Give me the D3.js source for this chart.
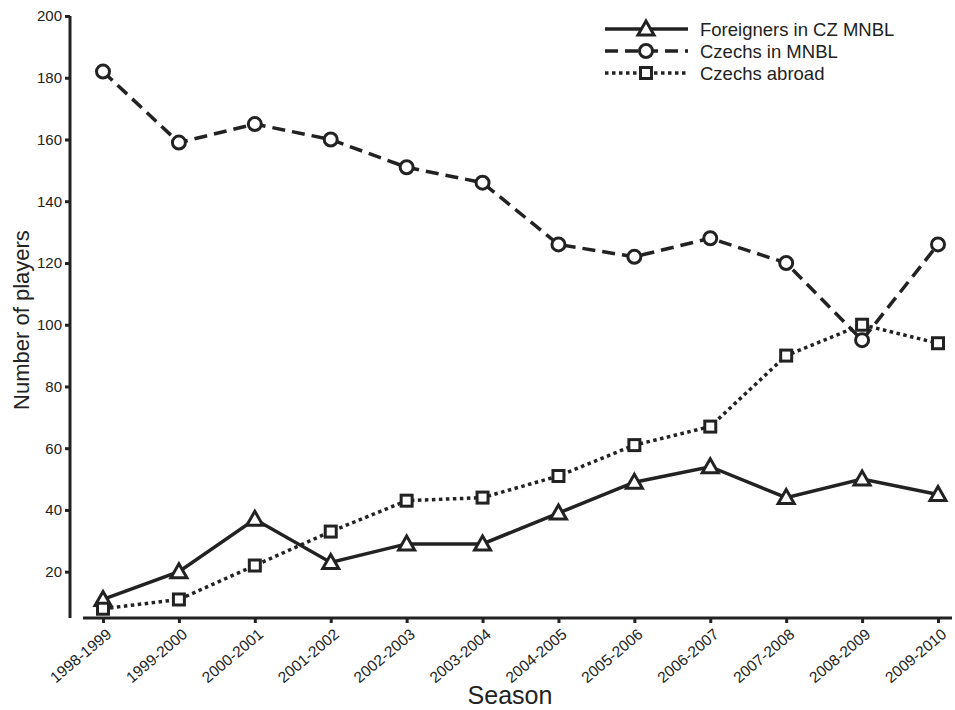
<!DOCTYPE html>
<html>
<head>
<meta charset="utf-8">
<script src="https://cdnjs.cloudflare.com/ajax/libs/d3/7.8.5/d3.min.js"></script>
<style>
  body { margin: 0; background: #fff; }
  text { font-family: "Liberation Sans", Arial, sans-serif; fill: #222; }
</style>
</head>
<body>
<div id="chart"></div>
<script>
// Data
const seasons = ["1998-1999", "1999-2000", "2000-2001", "2001-2002", "2002-2003", "2003-2004",
                 "2004-2005", "2005-2006", "2006-2007", "2007-2008", "2008-2009", "2009-2010"];
const foreigners = [11, 20, 37, 23, 29, 29, 39, 49, 54, 44, 50, 45];
const czechsMNBL = [182, 159, 165, 160, 151, 146, 126, 122, 128, 120, 95, 126];
const czechsAbroad = [8, 11, 22, 33, 43, 44, 51, 61, 67, 90, 100, 94];
const yTicks = [20, 40, 60, 80, 100, 120, 140, 160, 180, 200];

const W = 955, H = 710;
const ink = "#222";

const svg = d3.select("#chart").append("svg")
    .attr("width", W)
    .attr("height", H);

// scales
const x = d3.scalePoint()
    .domain(seasons)
    .range([103, 938]);
const y = d3.scaleLinear()
    .domain([5, 200])
    .range([618, 16]);

// Y axis (offset Prism style)
const yAxis = svg.append("g")
    .attr("transform", "translate(70,0)")
    .call(d3.axisLeft(y).tickValues(yTicks).tickSize(5).tickPadding(3));
yAxis.select(".domain").attr("stroke", ink).attr("stroke-width", 3)
    .attr("d", `M0,${y(5)}V${y(200)}`);
yAxis.selectAll(".tick line").attr("stroke", ink).attr("stroke-width", 3);
yAxis.selectAll(".tick text").style("font-size", "15px").attr("fill", ink);

// X axis
const xAxis = svg.append("g")
    .attr("transform", "translate(0,618)")
    .call(d3.axisBottom(x).tickSize(5).tickSizeOuter(0));
xAxis.select(".domain").attr("stroke", ink).attr("stroke-width", 3)
    .attr("d", "M83,0H952");
xAxis.selectAll(".tick line").attr("stroke", ink).attr("stroke-width", 3);
xAxis.selectAll(".tick text")
    .style("font-size", "15.5px")
    .attr("fill", ink)
    .attr("text-anchor", "end")
    .attr("dy", null)
    .attr("y", 0)
    .attr("transform", "translate(9,18) rotate(-40)");

// axis titles
svg.append("text")
    .attr("x", 510).attr("y", 704)
    .attr("text-anchor", "middle")
    .style("font-size", "25px")
    .text("Season");
svg.append("text")
    .attr("transform", "translate(29,320) rotate(-90)")
    .attr("text-anchor", "middle")
    .style("font-size", "22px")
    .text("Number of players");

// series
const series = [
  {name: "Foreigners in CZ MNBL", values: foreigners, dash: null, marker: "triangle"},
  {name: "Czechs in MNBL", values: czechsMNBL, dash: "13,7", marker: "circle"},
  {name: "Czechs abroad", values: czechsAbroad, dash: "3.5,3.5", marker: "square"}
];

const line = d3.line()
    .x((d, i) => x(seasons[i]))
    .y(d => y(d));

function drawMarker(g, type) {
  if (type === "circle") {
    g.append("circle").attr("r", 6.5);
  } else if (type === "square") {
    g.append("rect").attr("x", -5.5).attr("y", -5.5).attr("width", 11).attr("height", 11);
  } else {
    g.append("path").attr("d", "M0,-8L8,6H-8Z");
  }
  g.selectAll("*")
    .attr("fill", "#fff")
    .attr("stroke", ink)
    .attr("stroke-width", 3);
}

series.forEach(s => {
  svg.append("path")
      .datum(s.values)
      .attr("fill", "none")
      .attr("stroke", ink)
      .attr("stroke-width", 3.5)
      .attr("stroke-dasharray", s.dash)
      .attr("d", line);
});

series.forEach(s => {
  svg.append("g").selectAll("g")
      .data(s.values)
      .join("g")
      .attr("transform", (d, i) => `translate(${x(seasons[i])},${y(d)})`)
      .each(function() { drawMarker(d3.select(this), s.marker); });
});

// legend
const legend = svg.append("g").attr("transform", "translate(605,29)");
series.forEach((s, i) => {
  const row = legend.append("g").attr("transform", `translate(0,${i * 22})`);
  row.append("line")
      .attr("x1", 0).attr("x2", 83)
      .attr("stroke", ink)
      .attr("stroke-width", 3.5)
      .attr("stroke-dasharray", s.dash);
  const m = row.append("g").attr("transform", "translate(41,0)");
  drawMarker(m, s.marker);
  row.append("text")
      .attr("x", 95).attr("y", 6.5)
      .style("font-size", "18.5px")
      .text(s.name);
});
</script>
</body>
</html>
